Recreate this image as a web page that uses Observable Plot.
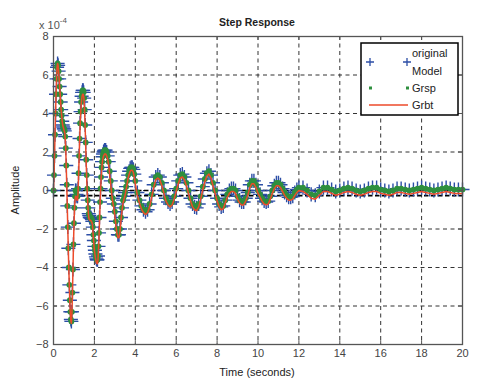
<!DOCTYPE html>
<html>
<head>
<meta charset="utf-8">
<script src="https://cdn.jsdelivr.net/npm/d3@7"></script>
<script src="https://cdn.jsdelivr.net/npm/@observablehq/plot@0.6"></script>
<style>
  html, body { margin: 0; padding: 0; background: #fff; }
  #chart { width: 494px; height: 390px; }
</style>
</head>
<body>
<div id="chart"></div>
<script>
// ---- Data (amplitude in units of 1e-4) ----
const time = [
  0,0.025,0.05,0.075,0.1,0.125,0.15,0.175,0.2,0.225,0.25,0.275,0.3,0.325,0.35,0.375,0.4,0.425,0.45,0.475,
  0.5,0.525,0.55,0.575,0.6,0.625,0.65,0.675,0.7,0.725,0.75,0.775,0.8,0.825,0.85,0.875,0.9,0.925,0.95,0.975,
  1.0,1.025,1.05,1.075,1.1,1.125,1.15,1.175,1.2,1.225,1.25,1.275,1.3,1.325,1.35,1.375,1.4,1.425,1.45,1.475,
  1.5,1.525,1.55,1.575,1.6,1.625,1.65,1.675,1.7,1.725,1.75,1.775,1.8,1.825,1.85,1.875,1.9,1.925,1.95,1.975,
  2.0,2.025,2.05,2.075,2.1,2.125,2.15,2.175,2.2,2.225,2.25,2.275,2.3,2.325,2.35,2.375,2.4,2.425,2.45,2.475,2.5,
  2.55,2.6,2.65,2.7,2.75,2.8,2.85,2.9,2.95,3.0,3.05,3.1,3.15,3.2,3.25,3.3,3.35,3.4,3.45,3.5,
  3.55,3.6,3.65,3.7,3.75,3.8,3.85,3.9,3.95,4.0,
  4.1,4.2,4.3,4.4,4.5,4.6,4.7,4.8,4.9,
  5.0,5.1,5.2,5.3,5.4,5.5,5.6,5.7,5.8,5.9,
  6.0,6.1,6.2,6.3,6.4,6.5,6.6,6.7,6.8,6.9,
  7.0,7.1,7.2,7.3,7.4,7.5,7.6,7.7,7.8,7.9,
  8.0,8.1,8.2,8.3,8.4,8.5,8.6,8.7,8.8,8.9,
  9.0,9.1,9.2,9.3,9.4,9.5,9.6,9.7,9.8,9.9,
  10.0,10.1,10.2,10.3,10.4,10.5,10.6,10.7,10.8,10.9,
  11.0,11.1,11.2,11.3,11.4,11.5,11.6,11.7,11.8,11.9,
  12.0,12.2,12.4,12.6,12.8,13.0,13.2,13.4,13.6,13.8,
  14.0,14.2,14.4,14.6,14.8,15.0,15.2,15.4,15.6,15.8,
  16.0,16.2,16.4,16.6,16.8,17.0,17.2,17.4,17.6,17.8,
  18.0,18.2,18.4,18.6,18.8,19.0,19.2,19.4,19.6,19.8,20.0
];

const originalModel = [
  0,0.8,1.8,2.9,4.0,5.0,5.8,6.4,6.6,6.5,6.2,5.8,5.4,5.0,4.6,4.2,3.9,3.6,3.4,3.3,
  3.2,3.2,3.1,2.8,2.2,1.3,0.3,-0.8,-1.9,-3.0,-4.0,-4.9,-5.7,-6.3,-6.7,-6.8,-6.3,-5.3,-4.1,-2.8,
  -1.7,-0.9,-0.3,0.0,0.0,-0.2,-0.3,-0.3,0.1,0.9,1.8,2.7,3.5,4.1,4.6,4.9,5.1,5.2,5.2,5.1,
  4.8,4.2,3.4,2.5,1.6,0.8,0.1,-0.5,-0.9,-1.2,-1.3,-1.4,-1.4,-1.4,-1.45,-1.5,-1.6,-1.9,-2.3,-2.6,
  -2.9,-3.1,-3.3,-3.45,-3.55,-3.6,-3.6,-3.4,-2.9,-2.2,-1.4,-0.6,0.1,0.7,1.2,1.5,1.75,1.9,2.0,2.05,2.1,
  2.1,2.0,1.8,1.5,1.0,0.5,0.0,-0.4,-0.7,-1.1,-1.6,-2.0,-2.3,-2.3,-2.0,-1.4,-0.9,-0.5,-0.3,-0.1,
  0.2,0.5,0.8,1.0,1.15,1.2,1.2,1.1,0.85,0.5,
  -0.1,-0.5,-0.8,-1.0,-1.1,-1.0,-0.7,-0.2,0.3,
  0.7,0.8,0.7,0.4,0.0,-0.4,-0.6,-0.7,-0.6,-0.3,
  0.1,0.5,0.8,0.85,0.7,0.4,0.0,-0.4,-0.7,-0.85,
  -0.9,-0.7,-0.3,0.2,0.6,0.9,1.0,0.8,0.4,0.0,
  -0.4,-0.7,-0.85,-0.8,-0.5,-0.2,0.0,0.1,0.1,0.0,
  -0.3,-0.5,-0.6,-0.6,-0.4,-0.1,0.3,0.5,0.5,0.3,
  0.0,-0.2,-0.4,-0.55,-0.6,-0.55,-0.3,0.0,0.25,0.4,
  0.4,0.3,0.1,-0.1,-0.25,-0.35,-0.35,-0.3,-0.1,0.05,
  0.15,0.15,0.0,-0.2,-0.25,-0.05,0.15,0.15,0.05,-0.05,
  0.0,0.1,0.15,0.1,0.0,-0.05,0.0,0.1,0.15,0.15,
  0.05,0.0,-0.05,0.0,0.1,0.1,0.05,0.0,0.05,0.1,
  0.15,0.1,0.05,0.0,0.05,0.1,0.15,0.1,0.05,0.05,0.05
];

const grsp = [
  0,0.8,1.8,2.9,4.0,5.0,5.8,6.4,6.6,6.5,6.2,5.8,5.4,5.0,4.6,4.2,3.9,3.6,3.4,3.3,
  3.2,3.2,3.1,2.8,2.2,1.3,0.3,-0.8,-1.9,-3.0,-4.0,-4.9,-5.7,-6.3,-6.7,-6.8,-6.3,-5.3,-4.1,-2.8,
  -1.7,-0.9,-0.3,0.0,0.0,-0.2,-0.3,-0.3,0.1,0.9,1.8,2.7,3.5,4.1,4.6,4.9,5.1,5.2,5.2,5.1,
  4.8,4.2,3.4,2.5,1.6,0.8,0.1,-0.5,-0.9,-1.2,-1.3,-1.4,-1.4,-1.4,-1.45,-1.5,-1.6,-1.9,-2.3,-2.6,
  -2.9,-3.1,-3.3,-3.45,-3.55,-3.6,-3.6,-3.4,-2.9,-2.2,-1.4,-0.6,0.1,0.7,1.2,1.5,1.75,1.9,2.0,2.05,2.1,
  2.1,2.0,1.8,1.5,1.0,0.5,0.0,-0.4,-0.7,-1.1,-1.6,-2.0,-2.3,-2.3,-2.0,-1.4,-0.9,-0.5,-0.3,-0.1,
  0.2,0.5,0.8,1.0,1.15,1.2,1.2,1.1,0.85,0.5,
  -0.1,-0.5,-0.8,-1.0,-1.1,-1.0,-0.7,-0.2,0.3,
  0.7,0.8,0.7,0.4,0.0,-0.4,-0.6,-0.7,-0.6,-0.3,
  0.1,0.5,0.8,0.85,0.7,0.4,0.0,-0.4,-0.7,-0.85,
  -0.9,-0.7,-0.3,0.2,0.6,0.9,1.0,0.8,0.4,0.0,
  -0.4,-0.7,-0.85,-0.8,-0.5,-0.2,0.0,0.1,0.1,0.0,
  -0.3,-0.5,-0.6,-0.6,-0.4,-0.1,0.3,0.5,0.5,0.3,
  0.0,-0.2,-0.4,-0.55,-0.6,-0.55,-0.3,0.0,0.25,0.4,
  0.4,0.3,0.1,-0.1,-0.25,-0.35,-0.35,-0.3,-0.1,0.05,
  0.15,0.15,0.0,-0.2,-0.25,-0.05,0.15,0.15,0.05,-0.05,
  0.0,0.1,0.15,0.1,0.0,-0.05,0.0,0.1,0.15,0.15,
  0.05,0.0,-0.05,0.0,0.1,0.1,0.05,0.0,0.05,0.1,
  0.15,0.1,0.05,0.0,0.05,0.1,0.15,0.1,0.05,0.05,0.05
];

const grbt = [
  0,0.8,1.8,2.9,4.0,5.0,5.8,6.4,6.6,6.5,6.2,5.8,5.4,5.0,4.6,4.2,3.9,3.6,3.4,3.3,
  3.2,3.1,3.0,2.7,2.1,1.2,0.2,-0.9,-2.0,-3.1,-4.1,-5.0,-5.8,-6.4,-6.8,-6.9,-6.4,-5.4,-4.2,-2.9,
  -1.8,-1.0,-0.5,-0.3,-0.3,-0.4,-0.5,-0.5,-0.1,0.7,1.6,2.5,3.3,3.9,4.4,4.7,4.9,5.0,5.0,4.9,
  4.6,4.0,3.2,2.3,1.4,0.6,-0.1,-0.7,-1.1,-1.4,-1.5,-1.55,-1.55,-1.55,-1.6,-1.65,-1.75,-2.05,-2.45,-2.8,
  -3.1,-3.3,-3.5,-3.65,-3.75,-3.8,-3.8,-3.6,-3.1,-2.4,-1.6,-0.8,-0.1,0.5,1.0,1.3,1.55,1.7,1.8,1.85,1.9,
  1.9,1.8,1.6,1.3,0.8,0.3,-0.2,-0.6,-0.9,-1.3,-1.8,-2.2,-2.45,-2.45,-2.15,-1.55,-1.05,-0.65,-0.45,-0.25,
  0.05,0.35,0.65,0.85,1.0,1.05,1.05,0.95,0.7,0.35,
  -0.25,-0.65,-0.95,-1.15,-1.25,-1.15,-0.85,-0.35,0.15,
  0.55,0.65,0.55,0.25,-0.15,-0.55,-0.75,-0.85,-0.75,-0.45,
  -0.05,0.35,0.65,0.7,0.55,0.25,-0.15,-0.55,-0.85,-1.0,
  -1.05,-0.85,-0.45,0.05,0.45,0.75,0.85,0.65,0.25,-0.15,
  -0.55,-0.85,-1.0,-0.95,-0.65,-0.35,-0.15,-0.05,-0.05,-0.15,
  -0.45,-0.65,-0.75,-0.75,-0.55,-0.25,0.15,0.35,0.35,0.15,
  -0.15,-0.35,-0.55,-0.7,-0.75,-0.7,-0.45,-0.15,0.1,0.25,
  0.25,0.15,-0.05,-0.25,-0.4,-0.5,-0.5,-0.45,-0.25,-0.1,
  0.0,-0.05,-0.2,-0.4,-0.45,-0.25,-0.05,-0.05,-0.15,-0.25,
  -0.2,-0.1,-0.05,-0.1,-0.2,-0.25,-0.2,-0.1,-0.05,-0.05,
  -0.15,-0.2,-0.25,-0.2,-0.1,-0.1,-0.15,-0.2,-0.15,-0.1,
  -0.05,-0.1,-0.15,-0.2,-0.15,-0.1,-0.05,-0.1,-0.15,-0.15,-0.15
];

const steadyLines = [0, -0.27];
const xTicks = [0, 2, 4, 6, 8, 10, 12, 14, 16, 18, 20];
const yTicks = [-8, -6, -4, -2, 0, 2, 4, 6, 8];
const seriesNames = ["original\nModel", "Grsp", "Grbt"];

const rows = time.map((t, i) => ({t, orig: originalModel[i], grsp: grsp[i], grbt: grbt[i]}));

const BLUE = "#2c4ea6", GREEN = "#2e8f3e", RED = "#ec4a2a";
const font = "'Liberation Sans', Arial, sans-serif";

const chart = Plot.plot({
  width: 494,
  height: 390,
  marginLeft: 53,
  marginRight: 32,
  marginTop: 36,
  marginBottom: 46,
  style: {fontFamily: font, fontSize: "11px", color: "#444", background: "white", overflow: "visible"},
  x: {domain: [0, 20], ticks: xTicks, label: null},
  y: {domain: [-8, 8], ticks: yTicks, label: null},
  marks: [
    Plot.ruleX(xTicks, {stroke: "#333", strokeWidth: 1, strokeDasharray: "4,3.5"}),
    Plot.ruleY(yTicks, {stroke: "#333", strokeWidth: 1, strokeDasharray: "4,3.5"}),
    Plot.ruleY(steadyLines, {stroke: "#000", strokeWidth: 1.7, strokeDasharray: "4.5,2.5"}),
    Plot.dot(rows, {x: "t", y: "orig", symbol: "plus", r: 4.6, stroke: BLUE, strokeWidth: 1.4}),
    Plot.dot(rows, {x: "t", y: "grsp", r: 2.9, fill: GREEN, stroke: "none"}),
    Plot.line(rows, {x: "t", y: "grbt", stroke: RED, strokeWidth: 1.5}),
    Plot.ruleX(xTicks, {y1: -8, y2: -7.8, stroke: "#555", strokeWidth: 1}),
    Plot.ruleX(xTicks, {y1: 8, y2: 7.8, stroke: "#555", strokeWidth: 1}),
    Plot.ruleY(yTicks, {x1: 0, x2: 0.2, stroke: "#555", strokeWidth: 1}),
    Plot.ruleY(yTicks, {x1: 20, x2: 19.8, stroke: "#555", strokeWidth: 1}),
    Plot.frame({stroke: "#555", strokeWidth: 1.3}),
    Plot.axisX({ticks: xTicks, tickSize: 0, tickPadding: 5, fill: "#444", label: null}),
    Plot.axisY({ticks: yTicks, tickSize: 0, tickPadding: 5, fill: "#444", label: null})
  ]
});

document.getElementById("chart").appendChild(chart);

// ---- Annotations: title, labels, exponent, legend ----
const svg = d3.select(chart);
const txt = (x, y, s, opts = {}) => svg.append("text")
  .attr("x", x).attr("y", y)
  .attr("font-family", font)
  .attr("font-size", opts.size || 11)
  .attr("fill", opts.fill || "#333")
  .attr("text-anchor", opts.anchor || "start")
  .attr("font-weight", opts.weight || "normal")
  .text(s);

txt(257, 26, "Step Response", {anchor: "middle", fill: "#222", weight: "600", size: 10.5});
txt(257, 376, "Time (seconds)", {anchor: "middle", fill: "#222"});
svg.append("text")
  .attr("transform", "translate(19,190) rotate(-90)")
  .attr("font-family", font).attr("font-size", 11).attr("fill", "#222")
  .attr("text-anchor", "middle").text("Amplitude");

const ex = svg.append("text").attr("x", 53).attr("y", 29)
  .attr("font-family", font).attr("font-size", 11).attr("fill", "#555");
ex.append("tspan").text("x 10");
ex.append("tspan").attr("dy", -6).attr("font-size", 8).text("-4");

// legend
const lg = svg.append("g");
lg.append("rect").attr("x", 361).attr("y", 43).attr("width", 97).attr("height", 72)
  .attr("fill", "white").attr("stroke", "#000").attr("stroke-width", 1.5);
const plusAt = (x, y) => lg.append("path")
  .attr("d", `M${x - 4},${y}H${x + 4}M${x},${y - 4}V${y + 4}`)
  .attr("stroke", BLUE).attr("stroke-width", 1.3);
plusAt(370, 62); plusAt(407, 62);
const names = seriesNames[0].split("\n");
txt(412, 57, names[0], {fill: "#222"});
txt(412, 75, names[1], {fill: "#222"});
lg.append("rect").attr("x", 369).attr("y", 86.5).attr("width", 3).attr("height", 3).attr("fill", GREEN);
lg.append("rect").attr("x", 406).attr("y", 86.5).attr("width", 3).attr("height", 3).attr("fill", GREEN);
txt(412, 92, seriesNames[1], {fill: "#222"});
lg.append("line").attr("x1", 369).attr("x2", 408).attr("y1", 105).attr("y2", 105)
  .attr("stroke", RED).attr("stroke-width", 1.6);
txt(412, 109, seriesNames[2], {fill: "#222"});
</script>
</body>
</html>
